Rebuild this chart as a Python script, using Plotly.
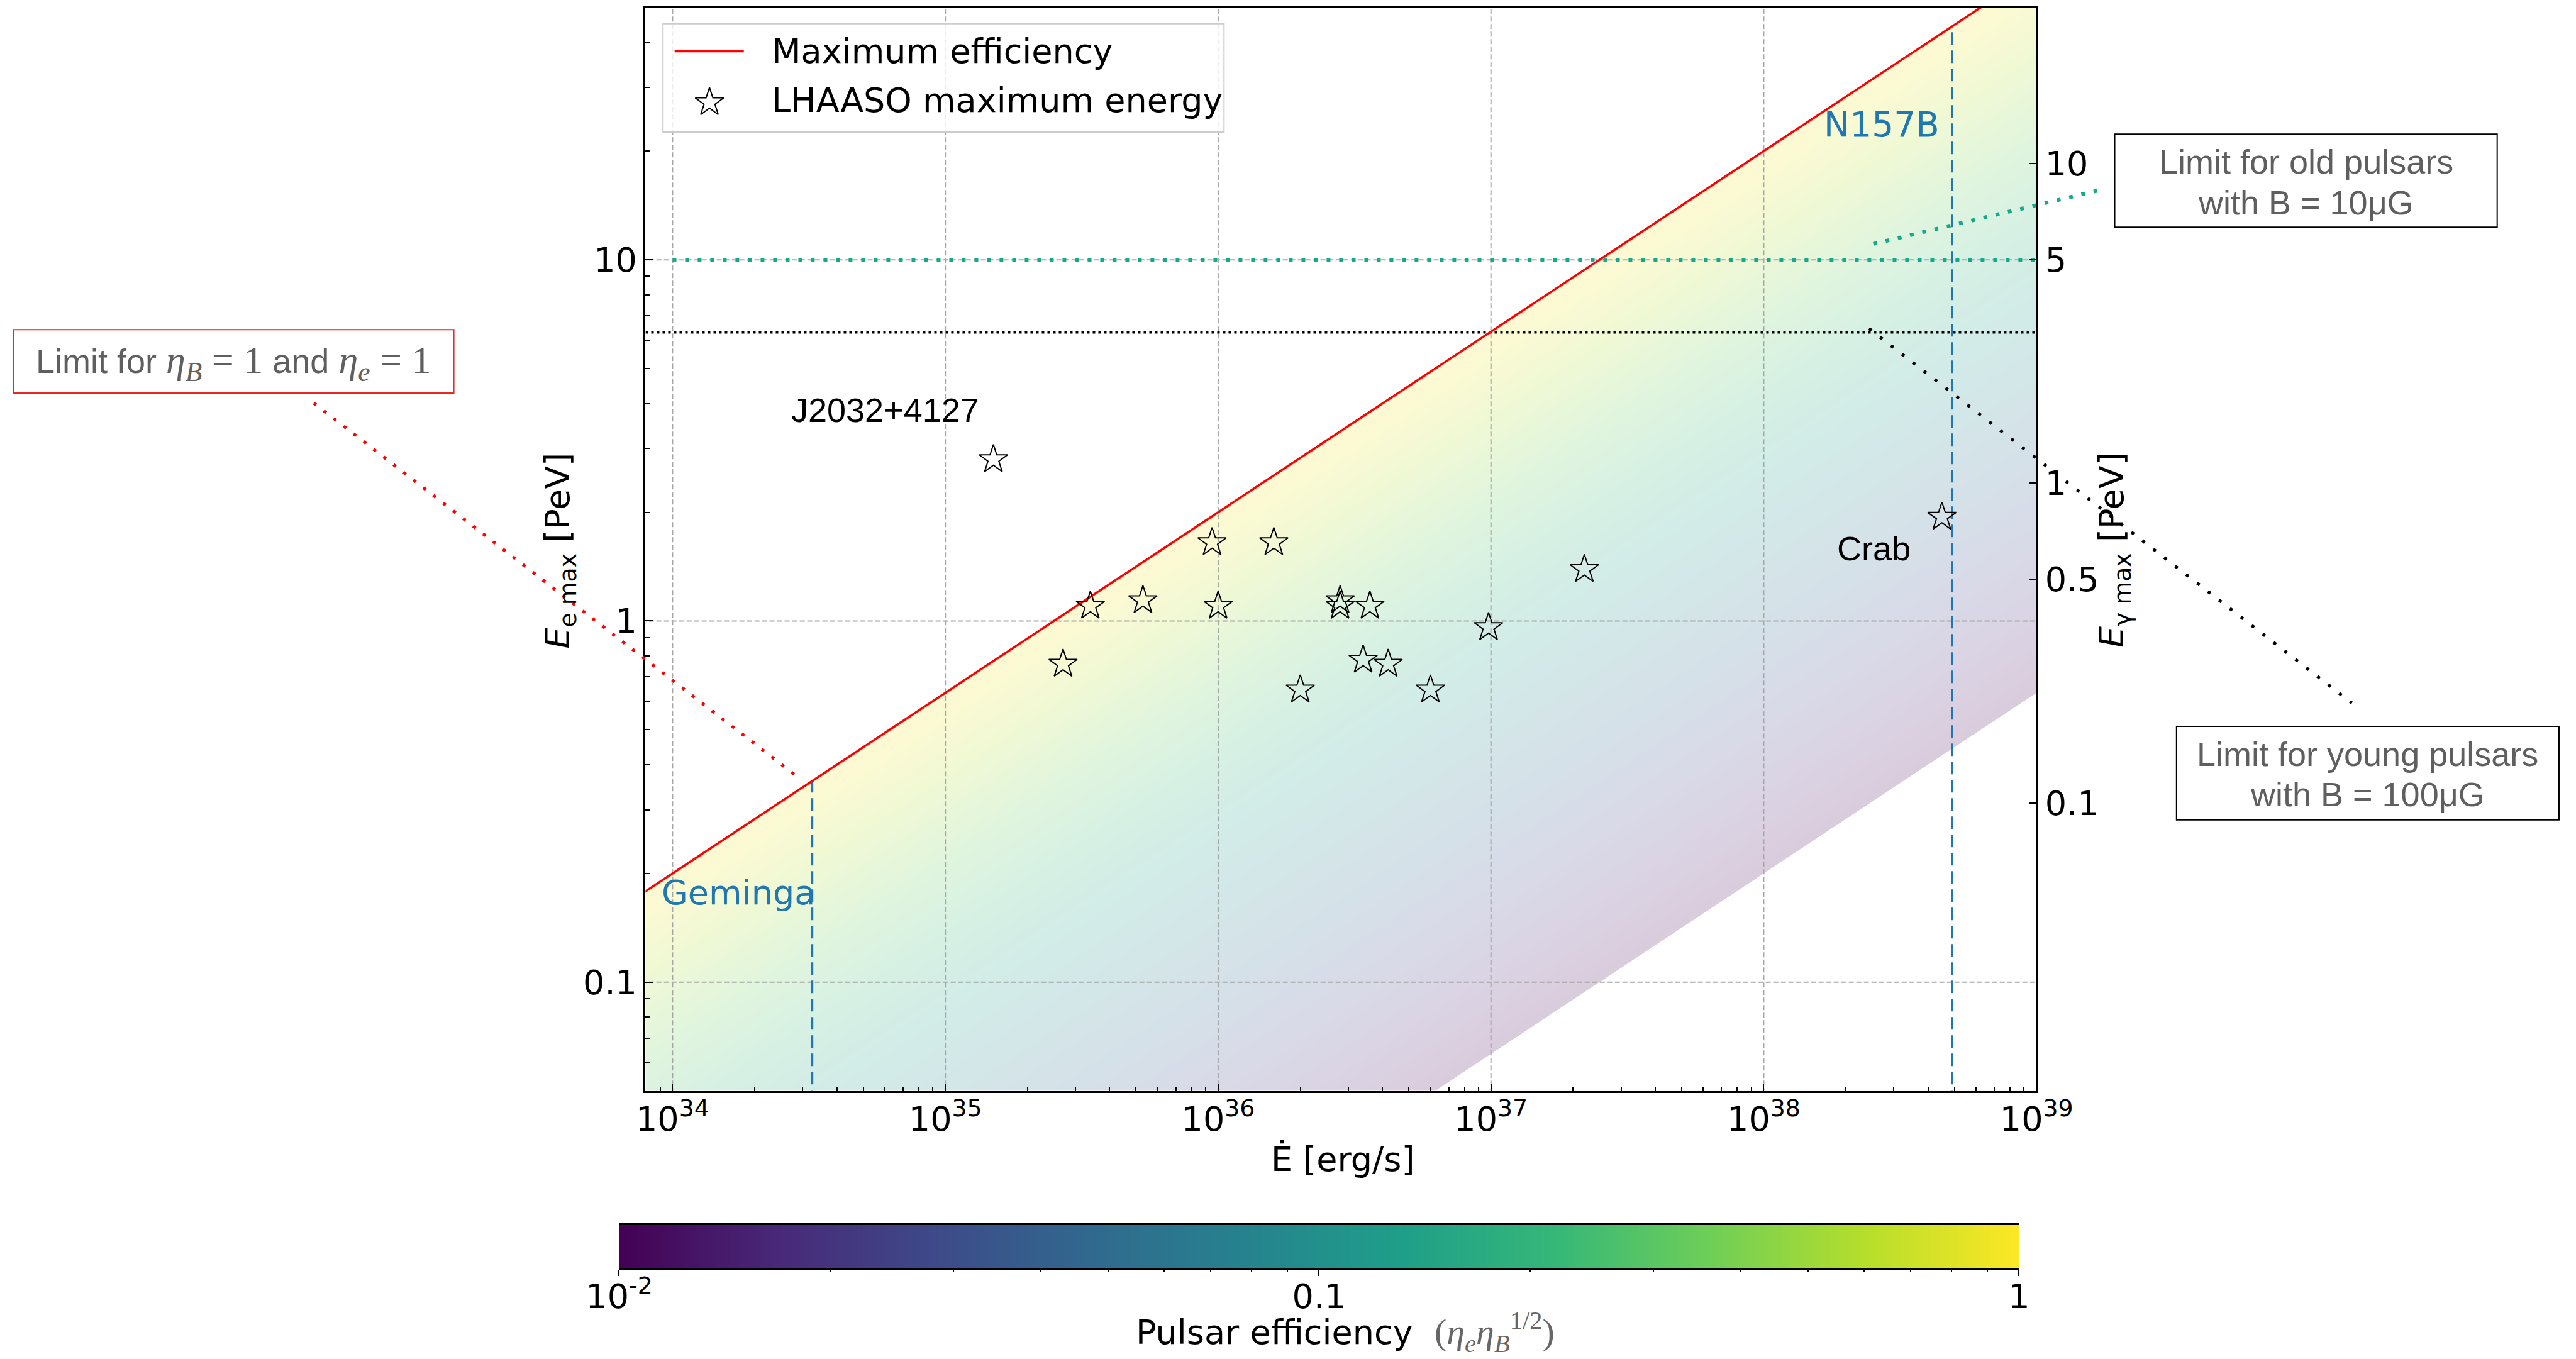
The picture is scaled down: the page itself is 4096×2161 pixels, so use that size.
import numpy as np
import plotly.graph_objects as go

# ---------------- data ----------------
pulsar_edot = [1.5e35, 2.7e35, 3.4e35, 5.3e35, 9.5e35, 1.0e36, 1.6e36, 2.0e36,
               2.8e36, 2.8e36, 3.6e36, 3.4e36, 4.2e36, 6.0e36, 9.8e36, 2.2e37, 4.5e38]
pulsar_emax = [2.8, 0.76, 1.10, 1.14, 1.65, 1.10, 1.65, 0.645,
               1.14, 1.10, 1.10, 0.78, 0.76, 0.645, 0.96, 1.39, 1.94]

geminga_edot = 3.25e34
n157b_edot = 4.9e38
emax_norm = 0.2            # PeV at Edot = 1e34 erg/s (maximum efficiency)
emax_index = 0.5
eff_min, eff_max = 0.01, 1.0
limit_old_pulsars = 10.0   # PeV (B = 10 uG)
limit_young_pulsars = 6.3  # PeV (B = 100 uG)

x_ticks = [1e34, 1e35, 1e36, 1e37, 1e38, 1e39]
x_ticktext = ["10<sup>34</sup>", "10<sup>35</sup>", "10<sup>36</sup>",
              "10<sup>37</sup>", "10<sup>38</sup>", "10<sup>39</sup>"]
y_ticks = [0.1, 1, 10]
y_ticktext = ["0.1", "1", "10"]
y2_ticks = [0.1, 0.5, 1, 5, 10]
y2_ticktext = ["0.1", "0.5", "1", "5", "10"]
cbar_ticks = [0.01, 0.1, 1]
cbar_ticktext = ["10<sup>-2</sup>", "0.1", "1"]

x_range_log = [33.901, 39.0]
y_range = [0.05, 50]
y2_range_log = [-1.900, 1.488]

# ---------------- helpers ----------------
W, H, S = 4096, 2161, 0.84
def px(xf):
    return xf * S / W
def py(yf):
    return 1 - yf * S / H

def emax(edot, eff=1.0):
    return eff * emax_norm * (np.asarray(edot, dtype=float) / 1e34) ** emax_index

def minor_vals(lo, hi):
    out = []
    for d in range(lo, hi + 1):
        for k in range(2, 10):
            out.append(k * 10.0 ** d)
    return out

SANS = "DejaVu Sans"
HELV = "Liberation Sans"
BLUE = "#1f77b4"
GREEN = "#14a98a"
GREY_T = "#5f5f5f"

fig = go.Figure()

# efficiency shading
lx = np.linspace(33.85, 39.05, 200)
ly = np.linspace(-1.35, 1.75, 160)
edot_grid = 10 ** lx
e_grid = 10 ** ly
z = np.log10(e_grid[:, None] / emax(edot_grid)[None, :])
fig.add_trace(go.Heatmap(x=edot_grid, y=e_grid, z=z, zmin=np.log10(eff_min), zmax=np.log10(eff_max),
                         colorscale="Viridis", showscale=False, opacity=0.2, zsmooth="best",
                         hoverinfo="skip"))

# white masks outside [eff_min, eff_max]
xe = [10 ** 33.5, 10 ** 39.5]
fig.add_trace(go.Scatter(x=[xe[0], xe[1], xe[1], xe[0]],
                         y=[float(emax(xe[0])), float(emax(xe[1])), 1e4, 1e4],
                         fill="toself", fillcolor="white", mode="lines", line=dict(width=0),
                         showlegend=False, hoverinfo="skip"))
fig.add_trace(go.Scatter(x=[xe[0], xe[1], xe[1], xe[0]],
                         y=[float(emax(xe[0], eff_min)), float(emax(xe[1], eff_min)), 1e-4, 1e-4],
                         fill="toself", fillcolor="white", mode="lines", line=dict(width=0),
                         showlegend=False, hoverinfo="skip"))

# grid lines
gx, gy = [], []
for v in x_ticks[:-1]:
    gx += [v, v, None]
    gy += [1e-3, 1e3, None]
for v in y_ticks:
    gx += [1e33, 1e40, None]
    gy += [v, v, None]
fig.add_trace(go.Scatter(x=gx, y=gy, mode="lines", line=dict(color="#a6a6a6", width=2, dash="8px,4px"),
                         showlegend=False, hoverinfo="skip"))

# limits
fig.add_trace(go.Scatter(x=[1e34, 1e39], y=[limit_old_pulsars] * 2, mode="lines",
                         line=dict(color=GREEN, width=6, dash="6px,14px"), showlegend=False, hoverinfo="skip"))
fig.add_trace(go.Scatter(x=[10 ** x_range_log[0], 1e39], y=[limit_young_pulsars] * 2, mode="lines",
                         line=dict(color="black", width=4, dash="4px,5px"), showlegend=False, hoverinfo="skip"))

# Geminga / N157B
for ed in (geminga_edot, n157b_edot):
    fig.add_trace(go.Scatter(x=[ed, ed], y=[1e-3, float(emax(ed))], mode="lines",
                             line=dict(color=BLUE, width=3.5, dash="20px,9px"), showlegend=False, hoverinfo="skip"))

# maximum efficiency line
xl = [10 ** 33.5, 10 ** 39.5]
fig.add_trace(go.Scatter(x=xl, y=[float(v) for v in emax(xl)], mode="lines", line=dict(color="red", width=3.5),
                         name="Maximum efficiency", showlegend=False, hoverinfo="skip"))

# LHAASO stars
fig.add_trace(go.Scatter(x=pulsar_edot, y=pulsar_emax, mode="markers",
                         marker=dict(symbol="star-open", size=34, color="black", line=dict(width=2)),
                         name="LHAASO maximum energy", showlegend=False, hoverinfo="skip"))

# secondary / minor-tick axis anchor traces
fig.add_trace(go.Scatter(x=[1e35], y=[1], yaxis="y2", mode="markers", marker=dict(opacity=0),
                         showlegend=False, hoverinfo="skip"))
fig.add_trace(go.Scatter(x=[1e35], y=[1], xaxis="x5", yaxis="y6", mode="markers", marker=dict(opacity=0),
                         showlegend=False, hoverinfo="skip"))

# colorbar
cb_x = np.logspace(np.log10(eff_min), np.log10(eff_max), 400)
fig.add_trace(go.Heatmap(x=cb_x, y=[0, 1], z=[np.log10(cb_x), np.log10(cb_x)],
                         zmin=np.log10(eff_min), zmax=np.log10(eff_max),
                         colorscale="Viridis", showscale=False, zsmooth="best", xaxis="x3", yaxis="y3",
                         hoverinfo="skip"))
fig.add_trace(go.Scatter(x=[0.1], y=[0.5], xaxis="x7", yaxis="y3", mode="markers", marker=dict(opacity=0),
                         showlegend=False, hoverinfo="skip"))

# legend (manual) on pixel-frame axes
fig.add_trace(go.Scatter(x=[1277, 1408], y=[97, 97], mode="lines", line=dict(color="red", width=3.5),
                         xaxis="x4", yaxis="y4", showlegend=False, hoverinfo="skip"))
fig.add_trace(go.Scatter(x=[1343], y=[194], mode="markers",
                         marker=dict(symbol="star-open", size=34, color="black", line=dict(width=2)),
                         xaxis="x4", yaxis="y4", showlegend=False, hoverinfo="skip"))

# ---------------- annotations ----------------
anns = []
def ann(text, xf, yf, size=54, color="black", family=SANS, xanchor="center", angle=0):
    anns.append(dict(text=text, x=px(xf), y=py(yf), xref="paper", yref="paper", showarrow=False,
                     font=dict(size=size, color=color, family=family), xanchor=xanchor, yanchor="middle",
                     textangle=angle))

SERIF = "font-family:'Liberation Serif';font-size:62px"
ann("Maximum efficiency", 1458, 97, xanchor="left")
ann("LHAASO maximum energy", 1458, 190, xanchor="left")
ann("J2032+4127", 1676, 776, family=HELV)
ann("Crab", 3547, 1038, family=HELV)
ann("N157B", 3674, 236, size=55, color=BLUE, xanchor="right")
ann("Geminga", 1250, 1690, color=BLUE, xanchor="left")
ann("<i>E</i><sub>e max</sub> [PeV]", 1060, 1042, angle=-90)
ann("<i>E</i><sub>γ max</sub> [PeV]", 4002, 1041, angle=-90)
ann("Ė [erg/s]", 2542, 2195)
ann("Limit for old pulsars", 4365, 306, color=GREY_T, family=HELV)
ann("with B = 10μG", 4365, 383, color=GREY_T, family=HELV)
ann("Limit for young pulsars", 4482, 1427, color=GREY_T, family=HELV)
ann("with B = 100μG", 4482, 1504, color=GREY_T, family=HELV)
ann(f"Limit for <span style=\"{SERIF}\"><i>η</i><sub><i>B</i></sub> = 1</span> and "
    f"<span style=\"{SERIF}\"><i>η</i><sub><i>e</i></sub> = 1</span>",
    442, 686, color=GREY_T, family=HELV)
ann("Pulsar efficiency  <span style=\"color:#666666;font-family:'Liberation Serif';font-size:58px\">"
    "(<i>η</i><sub><i>e</i></sub><i>η</i><sub><i>B</i></sub><sup>1/2</sup>)</span>", 2547, 2522)

# ---------------- shapes ----------------
shapes = []
def box(x0, y0, x1, y1, color):
    shapes.append(dict(type="rect", xref="paper", yref="paper", x0=px(x0), x1=px(x1), y0=py(y1), y1=py(y0),
                       line=dict(color=color, width=2), fillcolor="rgba(0,0,0,0)", layer="above"))
def seg(x0, y0, x1, y1, color, width, dash):
    shapes.append(dict(type="line", xref="paper", yref="paper", x0=px(x0), x1=px(x1), y0=py(y0), y1=py(y1),
                       line=dict(color=color, width=width, dash=dash), layer="above"))

box(25, 624, 859, 744, "#e8281e")
box(4003, 254, 4727, 430, "black")
box(4120, 1375, 4844, 1552, "black")
seg(594, 763, 1514, 1474, "red", 5, "5px,15px")
seg(3970, 361, 3541, 463, GREEN, 6, "6px,14px")
seg(3538, 622, 4452, 1331, "black", 5, "5px,17px")
# legend frame
shapes.append(dict(type="rect", xref="x4", yref="y4", x0=1255, x1=2317, y0=45, y1=250,
                   line=dict(color="#cccccc", width=2), fillcolor="rgba(255,255,255,0.8)", layer="below"))

tickfont = dict(size=54, family=SANS, color="black")
xdom = [px(1222), px(3855)]
ydom = [py(2065), py(14)]
xr = list(x_range_log)
yr = [float(np.log10(y_range[0])), float(np.log10(y_range[1]))]
common = dict(automargin=False, showgrid=False, zeroline=False)
fig.update_layout(
    template="none",
    width=W, height=H, margin=dict(l=0, r=0, t=0, b=0, pad=0, autoexpand=False), autosize=False,
    paper_bgcolor="white", plot_bgcolor="rgba(0,0,0,0)", showlegend=False,
    font=dict(family=SANS, color="black"),
    xaxis=dict(type="log", range=xr, domain=xdom, anchor="y",
               showline=True, linecolor="black", linewidth=2.5, mirror=True,
               ticks="inside", ticklen=12, tickwidth=2, tickcolor="black",
               tickmode="array", tickvals=x_ticks, ticktext=x_ticktext, tickfont=tickfont,
               ticklabelstandoff=-4, **common),
    yaxis=dict(type="log", range=yr, domain=ydom, anchor="x",
               showline=True, linecolor="black", linewidth=2.5,
               ticks="inside", ticklen=12, tickwidth=2, tickcolor="black",
               tickmode="array", tickvals=y_ticks, ticktext=y_ticktext, tickfont=tickfont, **common),
    yaxis2=dict(type="log", range=y2_range_log, overlaying="y", side="right", anchor="x",
                showline=True, linecolor="black", linewidth=2.5,
                ticks="inside", ticklen=12, tickwidth=2, tickcolor="black",
                tickmode="array", tickvals=y2_ticks, ticktext=y2_ticktext, tickfont=tickfont, **common),
    # minor ticks (overlay axes)
    xaxis5=dict(type="log", range=xr, overlaying="x", anchor="y6", side="bottom",
                ticks="inside", ticklen=7, tickwidth=1.5, tickcolor="black", showticklabels=False,
                tickmode="array", tickvals=minor_vals(33, 38), showline=False, **common),
    yaxis6=dict(type="log", range=yr, overlaying="y", anchor="x5", side="left",
                ticks="inside", ticklen=7, tickwidth=1.5, tickcolor="black", showticklabels=False,
                tickmode="array", tickvals=minor_vals(-2, 1), showline=False, **common),
    xaxis3=dict(type="log", range=[-2, 0], domain=[px(1172), px(3822)],
                anchor="y3", showline=True, linecolor="black", linewidth=3, mirror=True,
                ticks="outside", ticklen=9, tickwidth=2, tickcolor="black",
                tickmode="array", tickvals=cbar_ticks, ticktext=cbar_ticktext, tickfont=tickfont,
                ticklabelstandoff=-14, **common),
    xaxis7=dict(type="log", range=[-2, 0], overlaying="x3", anchor="y3", side="bottom",
                ticks="outside", ticklen=5, tickwidth=1.5, tickcolor="black", showticklabels=False,
                tickmode="array", tickvals=minor_vals(-2, -1), showline=False, **common),
    yaxis3=dict(range=[-0.5, 1.5], domain=[py(2401), py(2319)], anchor="x3", visible=False, **common),
    xaxis4=dict(range=[0, W / S], domain=[0, 1], anchor="y4", visible=False, fixedrange=True, **common),
    yaxis4=dict(range=[H / S, 0], domain=[0, 1], anchor="x4", visible=False, fixedrange=True, **common),
    annotations=anns, shapes=shapes,
)

fig.write_html("out.html")
